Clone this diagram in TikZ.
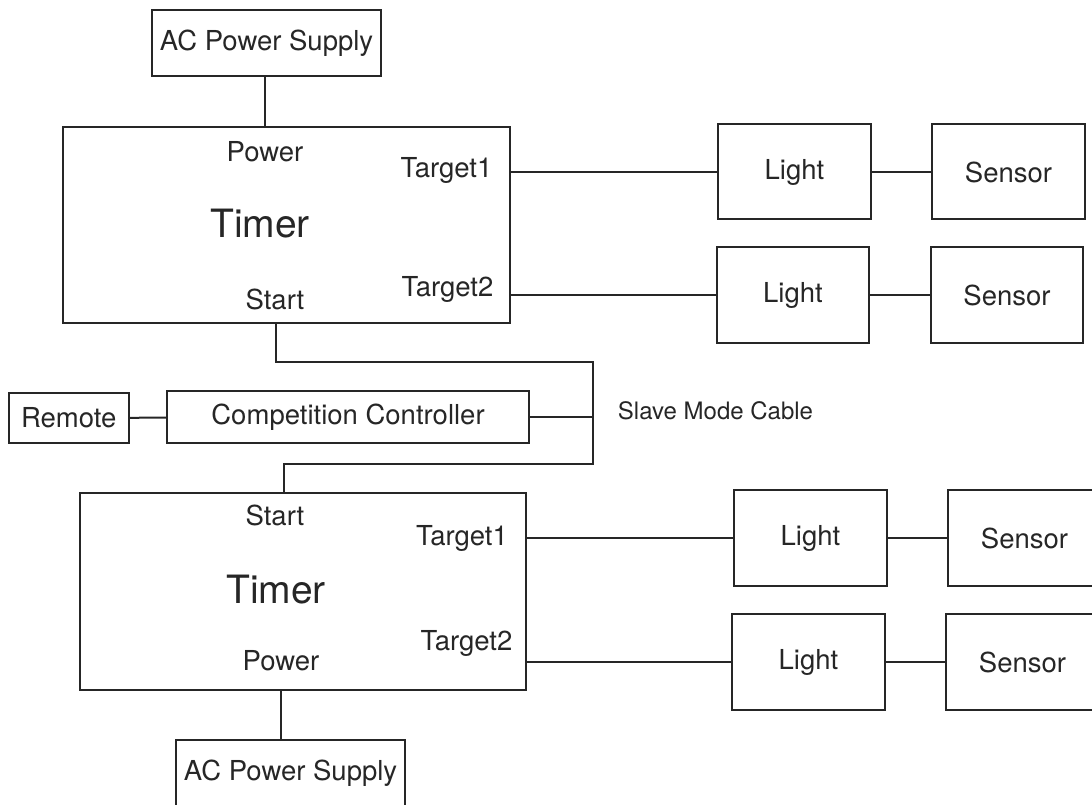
\documentclass[tikz,border=0pt]{standalone}
\usepackage{fontspec}
\setmainfont{TeX Gyre Heros}
\begin{document}
\begin{tikzpicture}[x=1pt,y=-1pt,
  box/.style={draw=black!85, line width=2pt, inner sep=0pt, text=black!85, font=\fontsize{27.5}{30}\selectfont},
  lbl/.style={anchor=base, inner sep=0pt, text=black!85, font=\fontsize{27.5}{30}\selectfont},
  wire/.style={draw=black!85, line width=2pt}]
\useasboundingbox (0,0) rectangle (1092,805);
% first timer
\node[box, minimum width=229pt, minimum height=66pt] (ac1) at (266.5,43) {AC Power Supply};
\node[box, minimum width=447pt, minimum height=196pt] (timer1) at (286.5,225) {};
\node[lbl] (pow1) at (265,161.7) {Power};
\node[lbl, font=\fontsize{39}{42}\selectfont] (tim1) at (260,237) {Timer};
\node[lbl] (tgA1) at (446.5,178) {Target1};
\node[lbl] (tgA2) at (447.5,296) {Target2};
\node[lbl] (start1) at (275,309) {Start};
\node[box, minimum width=153pt, minimum height=95pt] (light1) at (794.5,172) {Light};
\node[box, minimum width=153pt, minimum height=95pt] (sensor1) at (1008.5,172) {Sensor};
\node[box, minimum width=152pt, minimum height=96pt] (light2) at (793,295) {Light};
\node[box, minimum width=152pt, minimum height=96pt] (sensor2) at (1007,295) {Sensor};
\draw[wire] (pow1 |- ac1.south) -- (pow1 |- timer1.north);
\draw[wire] (timer1.east |- light1) -- (light1);
\draw[wire] (light1) -- (sensor1);
\draw[wire] (timer1.east |- light2) -- (light2);
\draw[wire] (light2) -- (sensor2);
% controller and slave cable
\node[box, minimum width=119.5pt, minimum height=50pt] (remote) at (68.75,418) {Remote};
\node[box, minimum width=362pt, minimum height=52pt] (ctrl) at (348,417) {Competition Controller};
\node[lbl, font=\fontsize{24}{27}\selectfont] (cable) at (715.5,419) {Slave Mode Cable};
\coordinate (cab1) at (276,362);
\coordinate (cab2) at (593,362);
\coordinate (cab3) at (593,464);
\coordinate (cab4) at (284,464);
\draw[wire] (remote) -- (ctrl);
\draw[wire] (ctrl.east) -- (ctrl.east -| cab2);
% second timer
\node[box, minimum width=446pt, minimum height=197pt] (timer2) at (303,591.5) {};
\node[lbl] (start2) at (275,525) {Start};
\node[lbl, font=\fontsize{39}{42}\selectfont] (tim2) at (276,603) {Timer};
\node[lbl] (tgB1) at (462,545) {Target1};
\node[lbl] (tgB2) at (466.5,650) {Target2};
\node[lbl] (pow2) at (281,670) {Power};
\node[box, minimum width=229pt, minimum height=66pt] (ac2) at (290.5,773) {AC Power Supply};
\node[box, minimum width=153pt, minimum height=96pt] (light3) at (810.5,538) {Light};
\node[box, minimum width=153pt, minimum height=96pt] (sensor3) at (1024.5,538) {Sensor};
\node[box, minimum width=153pt, minimum height=96pt] (light4) at (808.5,662) {Light};
\node[box, minimum width=153pt, minimum height=96pt] (sensor4) at (1022.5,662) {Sensor};
\draw[wire] (cab1 |- timer1.south) -- (cab1) -- (cab2) -- (cab3) -- (cab4) -- (cab4 |- timer2.north);
\draw[wire] (timer2.east |- light3) -- (light3);
\draw[wire] (light3) -- (sensor3);
\draw[wire] (timer2.east |- light4) -- (light4);
\draw[wire] (light4) -- (sensor4);
\draw[wire] (pow2 |- timer2.south) -- (pow2 |- ac2.north);
\end{tikzpicture}
\end{document}
